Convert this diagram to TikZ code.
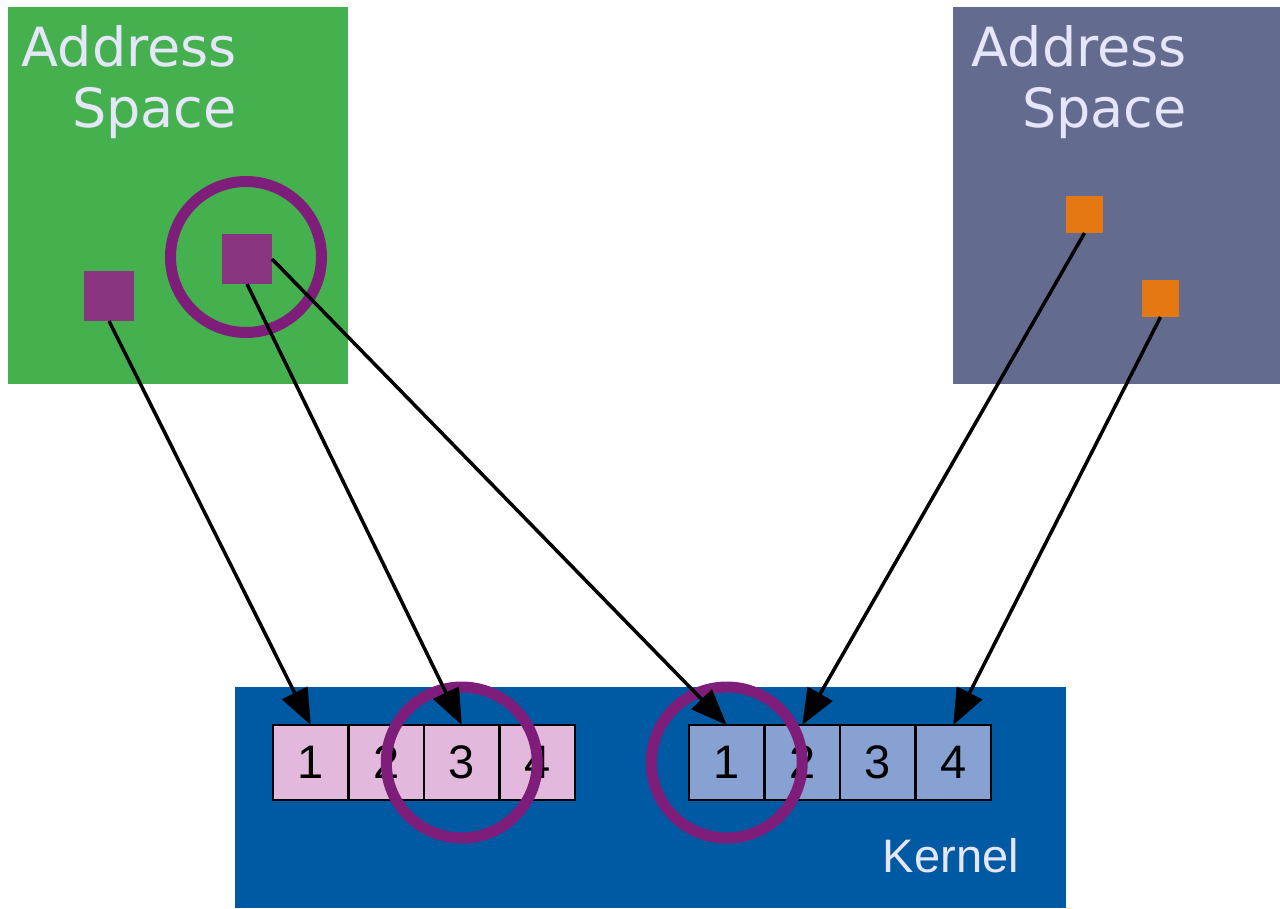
\documentclass[tikz,border=0pt]{standalone}
\usepackage{fontspec}
\setmainfont{Liberation Sans}
\newfontfamily\dejavu{DejaVu Sans}
\usetikzlibrary{shapes,arrows.meta,positioning}

\definecolor{spacegreen}{HTML}{45B14E}
\definecolor{spaceslate}{HTML}{636C8F}
\definecolor{kernelblue}{HTML}{0059A3}
\definecolor{cellpink}{HTML}{E2B9DC}
\definecolor{cellblue}{HTML}{87A1D2}
\definecolor{objpurple}{HTML}{8A3580}
\definecolor{ringpurple}{HTML}{7E1E7A}
\definecolor{resorange}{HTML}{E67814}
\definecolor{labeltext}{HTML}{E6E6FA}

\begin{document}
\begin{tikzpicture}[
    x=1pt, y=-1pt,
    node distance=0pt,
    area/.style={rectangle, inner sep=0pt, outer sep=0pt, anchor=north west},
    title/.style={text=labeltext, font=\dejavu\fontsize{54}{61}\selectfont, align=right, inner sep=0pt},
    obj/.style={rectangle, inner sep=0pt, outer sep=0pt, fill=objpurple, minimum size=50pt},
    res/.style={rectangle, inner sep=0pt, outer sep=0pt, fill=resorange, minimum size=37pt},
    cell/.style={draw, line width=2.5pt, rectangle, inner sep=0pt, outer sep=0pt, minimum width=75.5pt, minimum height=75pt, font=\fontsize{47}{47}\selectfont},
    pinkcell/.style={cell, fill=cellpink},
    bluecell/.style={cell, fill=cellblue},
    ring/.style={draw=ringpurple, line width=11pt, circle, minimum size=151pt, inner sep=0pt},
    arrow/.style={-{Triangle[length=36pt, width=28pt]}, line width=3.5pt}
]
\useasboundingbox (0,0) rectangle (1280,908);

% Address spaces
\node[area, fill=spacegreen, minimum width=340pt, minimum height=377pt] (space1) at (8,7) {};
\node[area, fill=spaceslate, minimum width=327pt, minimum height=377pt] (space2) at (953,7) {};
\node[title, anchor=north east] (title1) at (237,25) {Address\\Space};
\node[title, anchor=north east] (title2) at (1187,25) {Address\\Space};

% Objects
\node[obj] (obj1) at (109,296) {};
\node[obj] (obj2) at (247,259) {};
\node[res] (res1) at (1084.5,214.5) {};
\node[res] (res2) at (1160.5,298.5) {};

% Kernel
\node[area, fill=kernelblue, minimum width=831pt, minimum height=221pt] (kernel) at (235,687) {};
\node[anchor=base east, text=labeltext, font=\fontsize{47}{47}\selectfont, inner sep=0pt] (klabel) at (1019,872) {Kernel};

% Buffers
\node[pinkcell] (pa1) at (310.75,762.5) {1};
\foreach \i/\p in {2/1,3/2,4/3}
    \node[pinkcell, right=of pa\p] (pa\i) {\i};
\node[bluecell] (pb1) at (726.75,762.5) {1};
\foreach \i/\p in {2/1,3/2,4/3}
    \node[bluecell, right=of pb\p] (pb\i) {\i};

% Highlights
\node[ring] (ring1) at (246,257) {};
\node[ring] (ring2) at (pa3) {};
\node[ring] (ring3) at (pb1) {};

% Arrows
\draw[arrow] (obj1.south) -- (pa1.north);
\draw[arrow] (obj2.south) -- (pa3.north);
\draw[arrow] (obj2.east) -- (pb1.north);
\draw[arrow] (res1.south) -- (pb2.north);
\draw[arrow] (res2.south) -- (pb4.north);
\end{tikzpicture}
\end{document}
